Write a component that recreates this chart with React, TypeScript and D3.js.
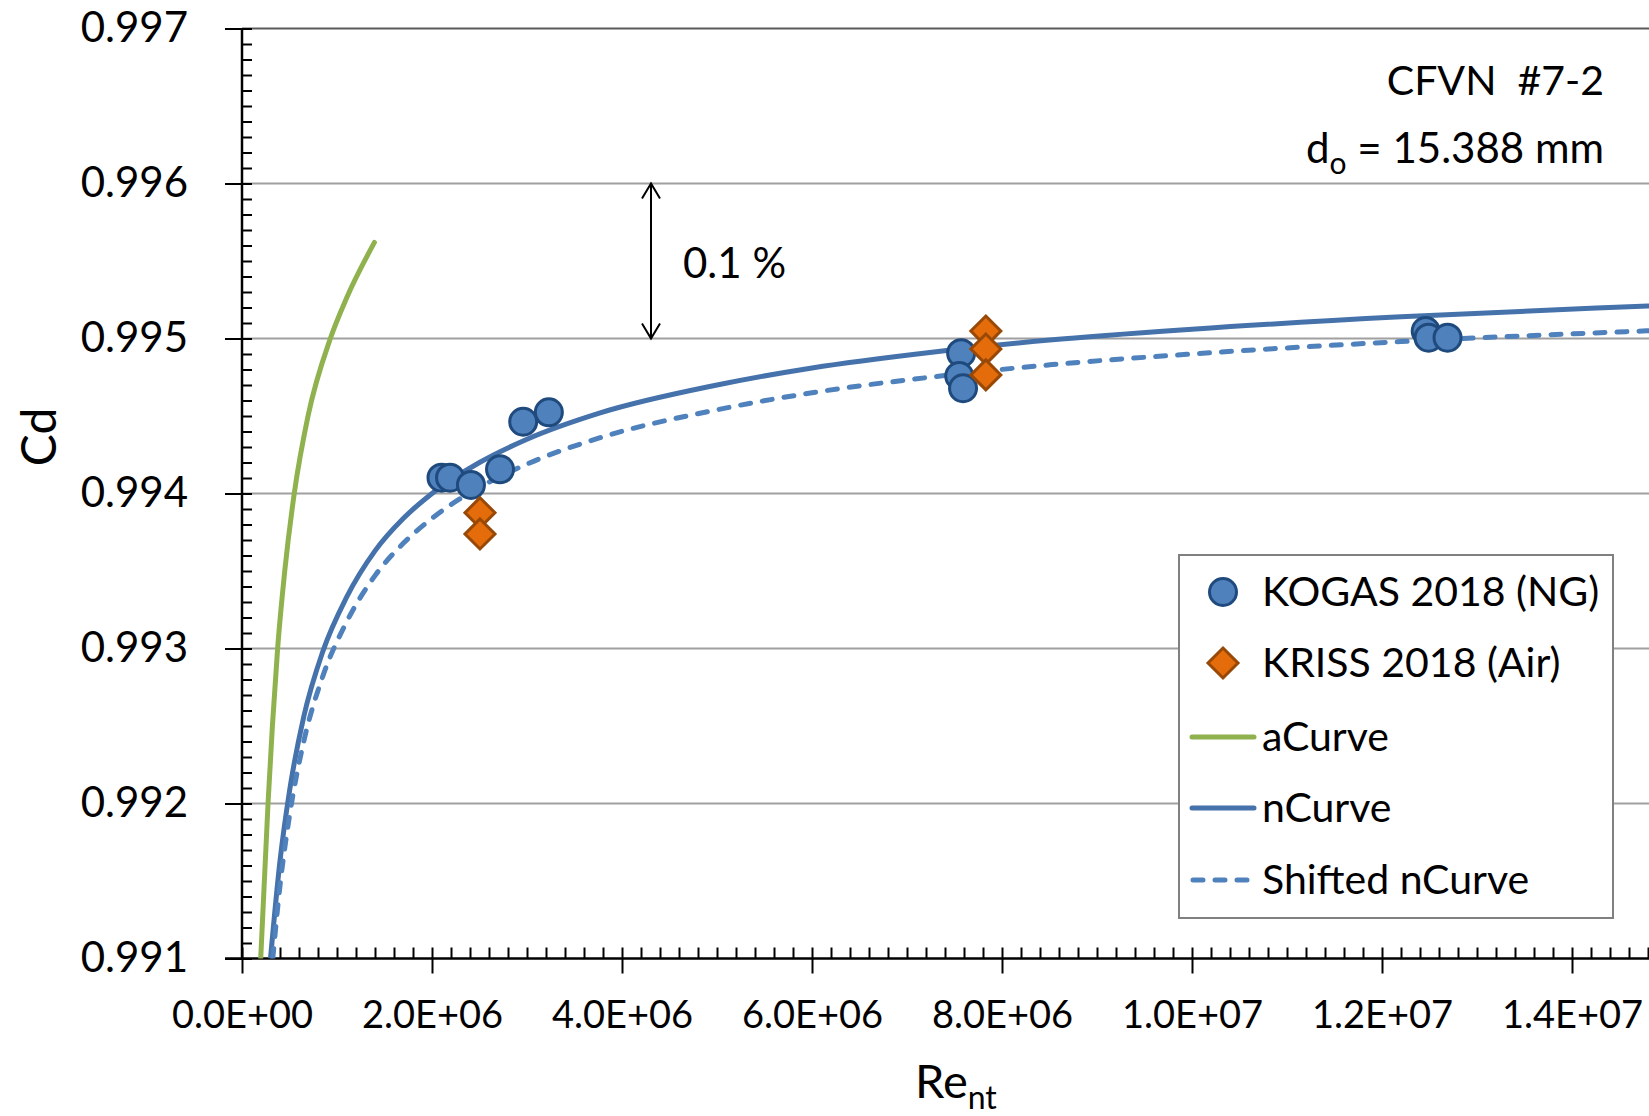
import React, { useEffect, useRef } from 'react';
import * as d3 from 'd3';

// KOGAS 2018 (NG) points
const kogasRe = [2.10e6, 2.19e6, 2.41e6, 2.716e6, 2.96e6, 3.23e6, 7.57e6, 7.55e6, 7.59e6, 12.46e6, 12.49e6, 12.69e6];
const kogasCd = [0.994102, 0.994102, 0.994055, 0.994156, 0.994463, 0.994524, 0.994905, 0.994758, 0.994679, 0.995048, 0.995005, 0.995005];

// KRISS 2018 (Air) points
const krissRe = [2.505e6, 2.505e6, 7.83e6, 7.83e6, 7.83e6];
const krissCd = [0.993876, 0.993739, 0.995048, 0.994932, 0.994765];

// curves
const aCurveRe = [0.197e6, 0.274e6, 0.32e6, 0.375e6, 0.45e6, 0.55e6, 0.695e6, 0.93e6, 1.10e6, 1.394e6];
const aCurveCd = [0.991, 0.992, 0.9925, 0.993, 0.9935, 0.994, 0.9945, 0.995, 0.99526, 0.99562];

const nCurveRe = [0.30e6, 0.40e6, 0.50e6, 0.65e6, 0.85e6, 1.10e6, 1.40e6, 1.70e6, 2.0e6, 2.5e6, 3.0e6, 3.77e6, 5.0e6, 6.0e6, 7.24e6, 8.5e6, 10.0e6, 12.2e6, 14.8e6, 16.0e6];
const nCurveCd = [0.9910, 0.99163, 0.99208, 0.99256, 0.99298, 0.99333, 0.99363, 0.99384, 0.99400, 0.99420, 0.99435, 0.99452, 0.99470, 0.99481, 0.99491, 0.99499, 0.99506, 0.99514, 0.99521, 0.99524];

const shiftRe = [0.324e6, 0.40e6, 0.50e6, 0.65e6, 0.85e6, 1.10e6, 1.40e6, 1.70e6, 2.0e6, 2.5e6, 3.0e6, 3.77e6, 5.0e6, 6.0e6, 7.24e6, 8.5e6, 10.0e6, 12.2e6, 14.8e6, 16.0e6];
const shiftCd = [0.9910, 0.99147, 0.99192, 0.99240, 0.99282, 0.99317, 0.99347, 0.99368, 0.99384, 0.99404, 0.99419, 0.99436, 0.99454, 0.99465, 0.99475, 0.99483, 0.99490, 0.99498, 0.99505, 0.99508];

const yTicks = [0.991, 0.992, 0.993, 0.994, 0.995, 0.996, 0.997];
const xTicks = [0, 2e6, 4e6, 6e6, 8e6, 1.0e7, 1.2e7, 1.4e7];

const legendLabels = ['KOGAS 2018 (NG)', 'KRISS 2018 (Air)', 'aCurve', 'nCurve', 'Shifted nCurve'];

const FONT = 'Lato, "Noto Sans", sans-serif';

function sci(v: number) {
  if (v === 0) return '0.0E+00';
  const e = Math.floor(Math.log10(v) + 1e-9);
  const m = v / Math.pow(10, e);
  return m.toFixed(1) + 'E+' + String(e).padStart(2, '0');
}

export default function App() {
  const ref = useRef<SVGSVGElement>(null);

  useEffect(() => {
    document.body.style.margin = '0';
    const W = 1649, H = 1116;
    const svg = d3.select(ref.current);
    svg.selectAll('*').remove();

    const left = 242, top = 28.5, bottom = 958.5;
    const x = d3.scaleLinear().domain([0, 1.6e7]).range([left, left + 16 * 95]);
    const y = d3.scaleLinear().domain([0.991, 0.997]).range([bottom, top]);

    svg.append('rect').attr('width', W).attr('height', H).attr('fill', '#fff');

    svg.append('clipPath').attr('id', 'plot')
      .append('rect').attr('x', left).attr('y', top - 2).attr('width', W - left).attr('height', bottom - top + 2);

    // gridlines
    svg.append('g').selectAll('line')
      .data(yTicks.slice(1))
      .join('line')
      .attr('x1', left).attr('x2', W)
      .attr('y1', d => y(d)).attr('y2', d => y(d))
      .attr('stroke', (d, i) => (i === yTicks.length - 2 ? '#5a5a5a' : '#a0a0a0'))
      .attr('stroke-width', 2);

    // y axis
    const yMinor = d3.range(0, 61).map(i => 0.991 + i * 0.0001);
    svg.append('g')
      .attr('transform', `translate(${left},0)`)
      .call(d3.axisLeft(y).tickValues(yMinor).tickSize(-10).tickFormat(() => ''))
      .call(g => g.select('.domain').remove())
      .selectAll('line').attr('stroke', '#000').attr('stroke-width', 2);
    const yAx = svg.append('g')
      .attr('transform', `translate(${left},0)`)
      .call(d3.axisLeft(y).tickValues(yTicks).tickSize(17).tickPadding(37).tickFormat(d => d3.format('.3f')(d as number)));
    yAx.select('.domain').remove();
    yAx.selectAll('line').attr('stroke', '#000').attr('stroke-width', 2);
    yAx.selectAll('text').attr('font-family', FONT).attr('font-size', 42).attr('fill', '#000');

    // x axis
    const xMinor = d3.range(0, 81).map(i => i * 2e5);
    svg.append('g')
      .attr('transform', `translate(0,${bottom})`)
      .call(d3.axisBottom(x).tickValues(xMinor).tickSize(-11).tickFormat(() => ''))
      .call(g => g.select('.domain').remove())
      .selectAll('line').attr('stroke', '#000').attr('stroke-width', 2);
    const xAx = svg.append('g')
      .attr('transform', `translate(0,${bottom})`)
      .call(d3.axisBottom(x).tickValues(xTicks).tickSize(15).tickPadding(28).tickFormat(d => sci(d as number)));
    xAx.select('.domain').remove();
    xAx.selectAll('line').attr('stroke', '#000').attr('stroke-width', 2);
    xAx.selectAll('text').attr('font-family', FONT).attr('font-size', 38).attr('fill', '#000');

    svg.append('line').attr('x1', left).attr('x2', left).attr('y1', top).attr('y2', bottom + 1)
      .attr('stroke', '#000').attr('stroke-width', 2.5);
    svg.append('line').attr('x1', left - 17).attr('x2', W).attr('y1', bottom).attr('y2', bottom)
      .attr('stroke', '#000').attr('stroke-width', 2.5);

    // curves
    const line = d3.line<[number, number]>()
      .x(d => x(d[0]))
      .y(d => y(d[1]))
      .curve(d3.curveMonotoneX);
    const plot = svg.append('g').attr('clip-path', 'url(#plot)');
    plot.append('path')
      .datum(aCurveRe.map((r, i) => [r, aCurveCd[i]] as [number, number]))
      .attr('fill', 'none').attr('stroke', '#8fb24f').attr('stroke-width', 5)
      .attr('stroke-linecap', 'round').attr('d', line);
    plot.append('path')
      .datum(nCurveRe.map((r, i) => [r, nCurveCd[i]] as [number, number]))
      .attr('fill', 'none').attr('stroke', '#4672ab').attr('stroke-width', 5)
      .attr('d', line);
    plot.append('path')
      .datum(shiftRe.map((r, i) => [r, shiftCd[i]] as [number, number]))
      .attr('fill', 'none').attr('stroke', '#4f81bd').attr('stroke-width', 5)
      .attr('stroke-dasharray', '10,12').attr('stroke-linecap', 'round').attr('d', line);

    // markers
    const diamond = (s: number) => `M0,${-s}L${s},0L0,${s}L${-s},0Z`;
    plot.append('g').selectAll('circle')
      .data(kogasRe.map((r, i) => [r, kogasCd[i]]))
      .join('circle')
      .attr('cx', d => x(d[0])).attr('cy', d => y(d[1])).attr('r', 13.5)
      .attr('fill', '#4f81bd').attr('stroke', '#1f4a7d').attr('stroke-width', 3);
    plot.append('g').selectAll('path')
      .data(krissRe.map((r, i) => [r, krissCd[i]]))
      .join('path')
      .attr('transform', d => `translate(${x(d[0])},${y(d[1])})`)
      .attr('d', diamond(15))
      .attr('fill', '#e46c0a').attr('stroke', '#984807').attr('stroke-width', 3);

    // 0.1 % arrow
    const ax = 651;
    const a1 = y(0.996), a2 = y(0.995);
    const ag = svg.append('g').attr('stroke', '#000').attr('stroke-width', 2).attr('fill', 'none');
    ag.append('line').attr('x1', ax).attr('x2', ax).attr('y1', a1).attr('y2', a2);
    ag.append('path').attr('d', `M${ax - 9},${a1 + 15}L${ax},${a1}L${ax + 9},${a1 + 15}`);
    ag.append('path').attr('d', `M${ax - 9},${a2 - 15}L${ax},${a2}L${ax + 9},${a2 - 15}`);
    svg.append('text').attr('x', 683).attr('y', 278)
      .attr('font-family', FONT).attr('font-size', 42).text('0.1 %');

    // annotation text
    svg.append('text').attr('x', 1604).attr('y', 95).attr('text-anchor', 'end')
      .attr('font-family', FONT).attr('font-size', 41)
      .style('white-space', 'pre').text('CFVN  #7-2');
    const dt = svg.append('text').attr('x', 1604).attr('y', 163).attr('text-anchor', 'end')
      .attr('font-family', FONT).attr('font-size', 42);
    dt.append('tspan').text('d');
    dt.append('tspan').attr('dy', 11).attr('font-size', 30).text('o');
    dt.append('tspan').attr('dy', -11).text(' = 15.388 mm');

    // axis titles
    svg.append('text').attr('transform', 'translate(56,437) rotate(-90)')
      .attr('text-anchor', 'middle').attr('font-family', FONT).attr('font-size', 48).text('Cd');
    const rt = svg.append('text').attr('x', 915).attr('y', 1098)
      .attr('font-family', FONT).attr('font-size', 47);
    rt.append('tspan').text('Re');
    rt.append('tspan').attr('dy', 11).attr('font-size', 32).text('nt');

    // legend
    const lg = svg.append('g');
    lg.append('rect').attr('x', 1179).attr('y', 555).attr('width', 434).attr('height', 363)
      .attr('fill', '#fff').attr('stroke', '#808080').attr('stroke-width', 2);
    const rows = [592, 663, 737, 808, 880];
    lg.append('circle').attr('cx', 1223).attr('cy', rows[0]).attr('r', 13.5)
      .attr('fill', '#4f81bd').attr('stroke', '#1f4a7d').attr('stroke-width', 3);
    lg.append('path').attr('transform', `translate(1223,${rows[1]})`).attr('d', diamond(15))
      .attr('fill', '#e46c0a').attr('stroke', '#984807').attr('stroke-width', 3);
    lg.append('line').attr('x1', 1192).attr('x2', 1254).attr('y1', rows[2]).attr('y2', rows[2])
      .attr('stroke', '#8fb24f').attr('stroke-width', 5).attr('stroke-linecap', 'round');
    lg.append('line').attr('x1', 1192).attr('x2', 1254).attr('y1', rows[3]).attr('y2', rows[3])
      .attr('stroke', '#4672ab').attr('stroke-width', 5).attr('stroke-linecap', 'round');
    lg.append('line').attr('x1', 1193).attr('x2', 1252).attr('y1', rows[4]).attr('y2', rows[4])
      .attr('stroke', '#4f81bd').attr('stroke-width', 5).attr('stroke-linecap', 'round')
      .attr('stroke-dasharray', '10,12');
    lg.selectAll('text.lab')
      .data(legendLabels)
      .join('text')
      .attr('class', 'lab')
      .attr('x', 1262)
      .attr('y', (d, i) => rows[i] + 14)
      .attr('font-family', FONT).attr('font-size', 41)
      .text(d => d);
  }, []);

  return <svg ref={ref} width={1649} height={1116} style={{ display: 'block' }} />;
}
